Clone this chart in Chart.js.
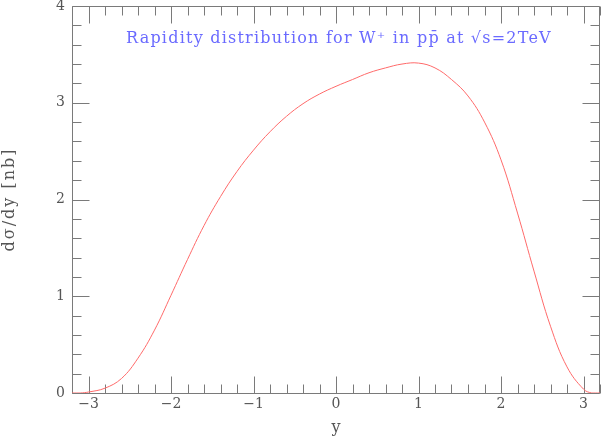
<!DOCTYPE html>
<html>
<head>
<meta charset="utf-8">
<script src="https://cdn.jsdelivr.net/npm/chart.js@4.4.1/dist/chart.umd.min.js"></script>
<style>
  html, body { margin: 0; padding: 0; background: #fff; }
  #wrap { width: 601px; height: 436px; }
</style>
</head>
<body>
<div id="wrap"><canvas id="rapChart" width="601" height="436"></canvas></div>
<script>
// rapidity values y and dsigma/dy [nb]
const rapidity = [-3.2, -3.1, -3.0, -2.8, -2.6, -2.4, -2.2, -2.0, -1.8, -1.6, -1.4, -1.2, -1.0,
                  -0.8, -0.6, -0.4, -0.2, 0.0, 0.2, 0.4, 0.6, 0.8, 1.0, 1.2, 1.4,
                  1.6, 1.8, 2.0, 2.2, 2.4, 2.6, 2.8, 3.0, 3.1, 3.2];
const dsigma = [0.0, 0.0, 0.01, 0.05, 0.15, 0.36, 0.65, 1.01, 1.38, 1.73, 2.03, 2.29, 2.51,
                2.70, 2.86, 2.99, 3.09, 3.17, 3.24, 3.31, 3.36, 3.40, 3.41, 3.36, 3.24,
                3.07, 2.80, 2.41, 1.86, 1.26, 0.69, 0.27, 0.04, 0.0, 0.0];

const xTickLabels = [-3, -2, -1, 0, 1, 2, 3];
const yTickLabels = [0, 1, 2, 3, 4];

const titleText = 'Rapidity distribution for W\u207A in pp\u0304 at \u221As=2TeV';
const xTitle = 'y';
const yTitle = 'd\u03C3/dy [nb]';

// axes frame, inward ticks on the four sides, labels and titles
const framePlugin = {
    id: 'frame',
    beforeDatasetsDraw(chart) {
        const ctx = chart.ctx;
        const a = chart.chartArea;
        const xs = chart.scales.x, ys = chart.scales.y;
        const L = Math.round(a.left) + 0.5, R = Math.round(a.right) - 0.5;
        const T = Math.round(a.top) + 0.5, B = Math.round(a.bottom) + 0.5;
        ctx.save();
        ctx.strokeStyle = '#7a7a7a';
        ctx.lineWidth = 1;
        ctx.beginPath();
        ctx.rect(L, T, R - L, B - T);
        // x ticks, minor every 0.2
        for (let i = -16; i <= 16; i++) {
            const v = i / 5;
            const px = Math.round(xs.getPixelForValue(v)) + 0.5;
            const len = (i % 5 === 0) ? 17 : 9;
            ctx.moveTo(px, B); ctx.lineTo(px, B - len);
            ctx.moveTo(px, T); ctx.lineTo(px, T + len);
        }
        // y ticks, minor every 0.2
        for (let i = 0; i <= 20; i++) {
            const v = i / 5;
            const py = Math.round(ys.getPixelForValue(v)) + 0.5;
            const len = (i % 5 === 0) ? 17 : 9;
            ctx.moveTo(L, py); ctx.lineTo(L + len, py);
            ctx.moveTo(R, py); ctx.lineTo(R - len, py);
        }
        ctx.stroke();

        // tick labels
        ctx.fillStyle = '#555';
        ctx.font = '14px "DejaVu Serif"';
        ctx.textAlign = 'center';
        ctx.textBaseline = 'middle';
        xTickLabels.forEach(v => {
            const s = v < 0 ? '\u2212' + Math.abs(v) : String(v);
            ctx.fillText(s, xs.getPixelForValue(v), a.bottom + 11);
        });
        ctx.textAlign = 'right';
        yTickLabels.forEach(v => {
            ctx.fillText(String(v), a.left - 7, ys.getPixelForValue(v));
        });

        // axis titles
        ctx.font = '16px "DejaVu Serif"';
        ctx.textAlign = 'center';
        ctx.fillText(xTitle, xs.getPixelForValue(0), 428);

        ctx.save();
        ctx.translate(10, (a.top + a.bottom) / 2);
        ctx.rotate(-Math.PI / 2);
        ctx.letterSpacing = '0px';
        let w0 = ctx.measureText(yTitle).width;
        ctx.letterSpacing = ((102 - w0) / (yTitle.length - 1)).toFixed(2) + 'px';
        ctx.fillText(yTitle, 0, 0);
        ctx.restore();

        // title inside the frame
        ctx.fillStyle = '#6a6aff';
        ctx.font = '16px "DejaVu Serif"';
        ctx.textAlign = 'left';
        ctx.textBaseline = 'alphabetic';
        ctx.letterSpacing = '0px';
        w0 = ctx.measureText(titleText).width;
        ctx.letterSpacing = ((426 - w0) / (titleText.length - 1)).toFixed(2) + 'px';
        ctx.fillText(titleText, 126, 43);
        ctx.letterSpacing = '0px';
        ctx.restore();
    }
};

const ctx = document.getElementById('rapChart').getContext('2d');
new Chart(ctx, {
    type: 'line',
    data: {
        datasets: [{
            data: rapidity.map((x, i) => ({ x: x, y: dsigma[i] })),
            borderColor: '#ff6a6a',
            borderWidth: 1,
            pointRadius: 0,
            fill: false,
            tension: 0.4
        }]
    },
    options: {
        responsive: false,
        animation: false,
        layout: { padding: { left: 72, right: 1, top: 6, bottom: 43 } },
        plugins: {
            legend: { display: false },
            tooltip: { enabled: false }
        },
        scales: {
            x: { type: 'linear', min: -3.2, max: 3.2, display: false },
            y: { type: 'linear', min: 0, max: 4, display: false }
        }
    },
    plugins: [framePlugin]
});
</script>
</body>
</html>
